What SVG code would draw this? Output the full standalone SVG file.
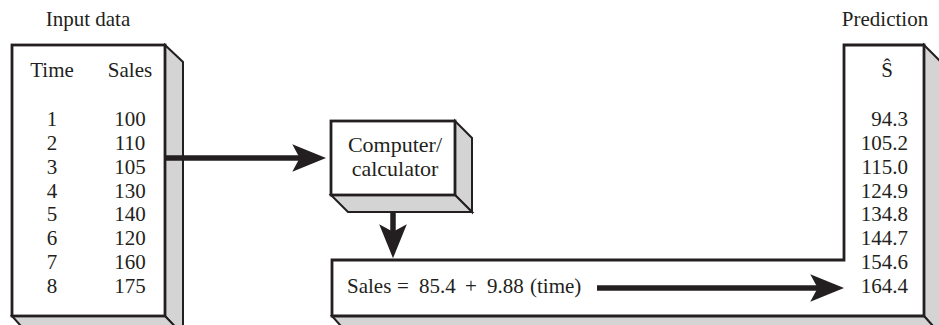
<svg xmlns="http://www.w3.org/2000/svg" width="939" height="325" viewBox="0 0 939 325">
<style>
text{font-family:"Liberation Serif","Times New Roman",serif;font-size:21px;fill:#231f20}
.front{fill:#fff;stroke:#231f20;stroke-width:2.8;stroke-linejoin:miter}
.depth{fill:#d4d4d4;stroke:#231f20;stroke-width:2;stroke-linejoin:miter}
.c{text-anchor:middle}
.r{text-anchor:end}
.conn{stroke:#231f20;stroke-width:5.5;fill:none}
</style>
<defs>
<marker id="ah" markerUnits="userSpaceOnUse" markerWidth="34" markerHeight="28" viewBox="0 0 32 26" refX="12" refY="13" orient="auto">
<path d="M0,0 L32,13 L0,26 L7,13 Z" fill="#231f20"/>
</marker>
</defs>
<rect width="939" height="325" fill="#fff"/>
<text x="88" y="26" class="c">Input data</text>
<text x="885" y="26" class="c">Prediction</text>

<g id="input">
<polygon class="depth" points="165,45 183,62 183,335 165,316"/>
<polygon class="depth" points="12,316 29,335 183,335 165,316"/>
<rect class="front" x="12" y="45" width="153" height="271"/>
<text x="52" y="77" class="c">Time</text>
<text x="130" y="77" class="c">Sales</text>
<text x="52" y="126" class="c">1</text><text x="130" y="126" class="c">100</text>
<text x="52" y="150" class="c">2</text><text x="130" y="150" class="c">110</text>
<text x="52" y="174" class="c">3</text><text x="130" y="174" class="c">105</text>
<text x="52" y="198" class="c">4</text><text x="130" y="198" class="c">130</text>
<text x="52" y="221" class="c">5</text><text x="130" y="221" class="c">140</text>
<text x="52" y="245" class="c">6</text><text x="130" y="245" class="c">120</text>
<text x="52" y="269" class="c">7</text><text x="130" y="269" class="c">160</text>
<text x="52" y="293" class="c">8</text><text x="130" y="293" class="c">175</text>
</g>

<g id="computer">
<polygon class="depth" points="455,121 472,138 472,212 455,195"/>
<polygon class="depth" points="331,195 348,212 472,212 455,195"/>
<rect class="front" x="331" y="121" width="124" height="74"/>
<text x="395" y="152" class="c" style="font-size:22px">Computer/</text>
<text x="395" y="176" class="c" style="font-size:22px">calculator</text>
</g>

<g id="prediction">
<polygon class="depth" points="924,45 941,62 941,335 924,316"/>
<polygon class="depth" points="332,316 349,335 941,335 924,316"/>
<polygon class="front" points="844,45 924,45 924,316 332,316 332,260 844,260"/>
<text x="887" y="77" class="c">Ŝ</text>
<text x="908" y="126" class="r">94.3</text>
<text x="908" y="150" class="r">105.2</text>
<text x="908" y="174" class="r">115.0</text>
<text x="908" y="198" class="r">124.9</text>
<text x="908" y="221" class="r">134.8</text>
<text x="908" y="245" class="r">144.7</text>
<text x="908" y="269" class="r">154.6</text>
<text x="908" y="293" class="r">164.4</text>
<text y="293"><tspan x="347">Sales</tspan><tspan x="397">=</tspan><tspan x="419">85.4</tspan><tspan x="465">+</tspan><tspan x="487">9.88</tspan><tspan x="530">(time)</tspan></text>
</g>

<g id="connectors">
<line class="conn" x1="165" y1="158" x2="305" y2="158" marker-end="url(#ah)"/>
<line class="conn" x1="393" y1="212" x2="393" y2="237" marker-end="url(#ah)"/>
<line class="conn" x1="597" y1="288" x2="823" y2="288" marker-end="url(#ah)"/>
</g>
</svg>
